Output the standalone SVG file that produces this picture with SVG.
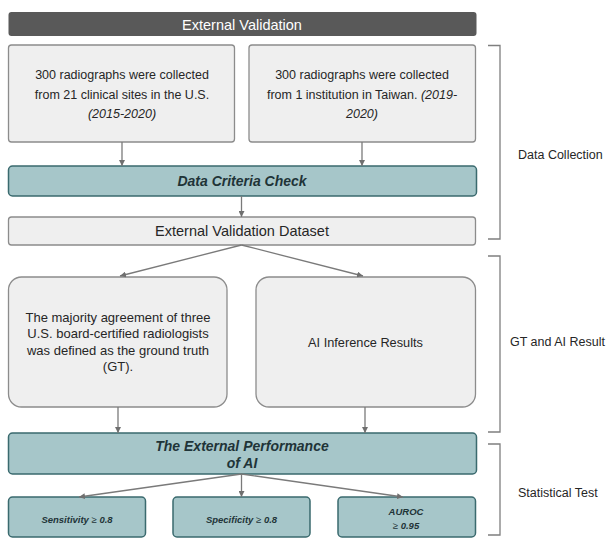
<svg xmlns="http://www.w3.org/2000/svg" width="606" height="539" viewBox="0 0 606 539">
<defs>
<marker id="ah" viewBox="0 0 10 10" refX="10" refY="5" markerWidth="6" markerHeight="6" markerUnits="userSpaceOnUse" orient="auto">
<path d="M0,0 L10,5 L0,10 z" fill="#6f6f6f"/>
</marker>
<style>
text{font-family:"Liberation Sans",Arial,sans-serif;fill:#262626;text-anchor:middle;dominant-baseline:central}
.gray{fill:#efefef;stroke:#8c8c8c;stroke-width:1.3}
.teal{fill:#a6c6c9;stroke:#3a6a6e;stroke-width:1.5}
.bi{font-weight:bold;font-style:italic}
.tt{fill:#1f3438}
.it{font-style:italic}
.lbl{text-anchor:start;font-size:12.5px}
.conn line{stroke:#7a7a7a;stroke-width:1.3;marker-end:url(#ah)}
.br{fill:none;stroke:#7f7f7f;stroke-width:1.3}
</style>
</defs>
<rect width="606" height="539" fill="#ffffff"/>

<g id="header">
<rect x="8.5" y="12" width="468" height="24" rx="3" fill="#595959"/>
<text x="242" y="24.5" style="fill:#ffffff;font-size:14.5px">External Validation</text>
</g>

<g id="us">
<rect class="gray" x="8.5" y="45" width="226" height="97" rx="3"/>
<text x="122" y="75" style="font-size:12.5px">300 radiographs were collected</text>
<text x="122" y="95" style="font-size:12.5px">from 21 clinical sites in the U.S.</text>
<text x="122" y="114" class="it" style="font-size:12.5px">(2015-2020)</text>
</g>

<g id="taiwan">
<rect class="gray" x="249" y="45" width="226.5" height="97" rx="3"/>
<text x="362" y="75" style="font-size:12.5px">300 radiographs were collected</text>
<text x="362" y="95" style="font-size:12.5px">from 1 institution in Taiwan. <tspan class="it">(2019-</tspan></text>
<text x="362" y="114" class="it" style="font-size:12.5px">2020)</text>
</g>

<g id="criteria">
<rect class="teal" x="8.5" y="166" width="468" height="30" rx="4"/>
<text x="242" y="181" class="bi tt" style="font-size:14px">Data Criteria Check</text>
</g>

<g id="dataset">
<rect class="gray" x="8.5" y="217" width="467" height="28" rx="3"/>
<text x="242" y="231" style="font-size:14.5px">External Validation Dataset</text>
</g>

<g id="gt">
<rect class="gray" x="8.5" y="277" width="218.5" height="130" rx="13"/>
<text x="118" y="317" style="font-size:13px">The majority agreement of three</text>
<text x="118" y="333.5" style="font-size:13px">U.S. board-certified radiologists</text>
<text x="118" y="350" style="font-size:13px">was defined as the ground truth</text>
<text x="118" y="366.5" style="font-size:13px">(GT).</text>
</g>

<g id="ai">
<rect class="gray" x="256" y="277" width="219.5" height="130" rx="13"/>
<text x="365.5" y="342" style="font-size:12.75px">AI Inference Results</text>
</g>

<g id="performance">
<rect class="teal" x="8.5" y="433" width="468" height="41" rx="4"/>
<text x="242" y="446" class="bi tt" style="font-size:14px">The External Performance</text>
<text x="242" y="463" class="bi tt" style="font-size:14px">of AI</text>
</g>

<g id="sensitivity">
<rect class="teal" x="8.5" y="497" width="137" height="40" rx="4"/>
<text x="77" y="519" class="tt" style="font-size:9.5px"><tspan class="bi">Sensitivity </tspan>≥<tspan class="bi"> 0.8</tspan></text>
</g>

<g id="specificity">
<rect class="teal" x="173" y="497" width="137" height="40" rx="4"/>
<text x="241.5" y="519" class="tt" style="font-size:9.5px"><tspan class="bi">Specificity </tspan>≥<tspan class="bi"> 0.8</tspan></text>
</g>

<g id="auroc">
<rect class="teal" x="338" y="497" width="137.5" height="40" rx="4"/>
<text x="406" y="511.5" class="bi tt" style="font-size:9.5px">AUROC</text>
<text x="406" y="525" class="tt" style="font-size:9.5px">≥<tspan class="bi"> 0.95</tspan></text>
</g>

<g id="connectors" class="conn">
<line x1="122" y1="142" x2="122" y2="166"/>
<line x1="362" y1="142" x2="362" y2="166"/>
<line x1="241.5" y1="196" x2="241.5" y2="217"/>
<line x1="241.5" y1="245" x2="120" y2="276"/>
<line x1="241.5" y1="245" x2="363" y2="276"/>
<line x1="118" y1="407" x2="118" y2="433"/>
<line x1="365" y1="407" x2="365" y2="433"/>
<line x1="241.5" y1="474" x2="79" y2="497"/>
<line x1="241.5" y1="474" x2="241.5" y2="497"/>
<line x1="241.5" y1="474" x2="403" y2="497"/>
</g>

<g id="brackets">
<path class="br" d="M488,45.5 H500 V239 H488"/>
<path class="br" d="M488,256 H500 V432 H488"/>
<path class="br" d="M488,444 H500 V535 H488"/>
<text class="lbl" x="518" y="155">Data Collection</text>
<text class="lbl" x="510" y="342">GT and AI Result</text>
<text class="lbl" x="518" y="493">Statistical Test</text>
</g>
</svg>
